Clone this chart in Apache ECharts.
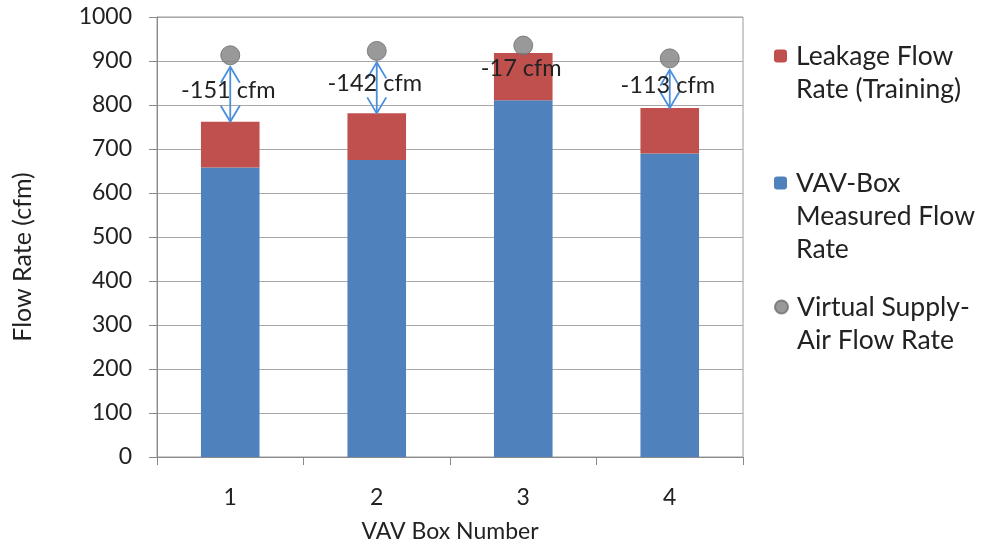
<!DOCTYPE html>
<html>
<head>
<meta charset="utf-8">
<title>VAV Box Flow Rates</title>
<script src="https://cdn.jsdelivr.net/npm/echarts@6/dist/echarts.min.js"></script>
<style>
  html, body { margin: 0; padding: 0; background: #fff; }
  #chart { width: 983px; height: 548px; }
</style>
</head>
<body>
<div id="chart"></div>
<script>
// Box numbers along the x axis
const boxes = ['1', '2', '3', '4'];
// Flow measured at each VAV box (cfm)
const measuredFlow = [658, 675, 811, 690];
// Leakage flow from training (cfm), stacked on top of the measured flow
const leakageFlow = [104, 106, 107, 103];
// Virtual supply-air flow rate (cfm)
const virtualFlow = [913, 923, 935, 906];
// Y axis range and step
const yMin = 0, yMax = 1000, yStep = 100;

const FONT = 'Lato';
const TEXT = '#222';
const DOT_SIZE = 19;

const chart = echarts.init(document.getElementById('chart'), null, { renderer: 'canvas' });

// Rows for the difference arrows: [index, measured + leakage, virtual]
const diffRows = boxes.map((b, i) => [i, measuredFlow[i] + leakageFlow[i], virtualFlow[i]]);

function renderDiff(params, api) {
  const i = api.value(0);
  const total = api.value(1);
  const virt = api.value(2);
  const pBar = api.coord([i, total]);
  const pDot = api.coord([i, virt]);
  const x = pBar[0];
  const yLow = pBar[1];
  const yHigh = pDot[1] + DOT_SIZE / 2 + 2;
  const headW = 9.5, headL = 16;
  const lineStyle = { stroke: '#4a8fdc', lineWidth: 1.8, fill: null };
  const mid = (yLow + yHigh) / 2 - 4;
  const labelY = Math.max(mid, pDot[1] + 23);
  const children = [];
  // Only draw the double arrow when there is room between bar top and dot
  if (yLow - yHigh > headL) {
    children.push(
      { type: 'line', shape: { x1: x, y1: yLow, x2: x, y2: yHigh }, style: lineStyle },
      { type: 'polyline', shape: { points: [[x - headW, yHigh + headL], [x, yHigh], [x + headW, yHigh + headL]] }, style: lineStyle },
      { type: 'polyline', shape: { points: [[x - headW, yLow - headL], [x, yLow], [x + headW, yLow - headL]] }, style: lineStyle }
    );
  }
  children.push({
    type: 'text',
    style: {
      text: (total - virt) + ' cfm',
      x: x - 2,
      y: labelY,
      align: 'center',
      verticalAlign: 'middle',
      fontFamily: FONT,
      fontSize: 23.5,
      fill: TEXT
    }
  });
  return { type: 'group', children: children };
}

// One legend component per entry; blank lines above the text keep
// each icon level with the first line of its (multi-line) name.
const LH = 33;
function legendBlock(name, iconY, lines) {
  const n = lines.length;
  const pad = '\n'.repeat(n - 1);
  return {
    data: [{ name: name }],
    orient: 'vertical',
    left: 774,
    top: iconY - (2 * n - 1) * LH / 2,
    padding: 0,
    itemWidth: 13,
    itemHeight: 13,
    itemGap: 0,
    selectedMode: false,
    formatter: () => pad + lines.join('\n'),
    textStyle: {
      fontFamily: FONT,
      fontSize: 26.5,
      color: TEXT,
      lineHeight: LH,
      padding: [0, 0, 0, 4]
    }
  };
}

const option = {
  backgroundColor: '#fff',
  animation: false,
  grid: {
    left: 157,
    right: 240,
    top: 17,
    bottom: 91,
    show: true,
    borderColor: '#9a9a9a',
    borderWidth: 1
  },
  legend: [
    legendBlock('Leakage Flow Rate (Training)', 56, ['Leakage Flow', 'Rate (Training)']),
    legendBlock('VAV-Box Measured Flow Rate', 183, ['VAV-Box', 'Measured Flow', 'Rate']),
    legendBlock('Virtual Supply-Air Flow Rate', 307, ['Virtual Supply-', 'Air Flow Rate'])
  ],
  xAxis: {
    type: 'category',
    data: boxes,
    boundaryGap: true,
    name: 'VAV Box Number',
    nameLocation: 'middle',
    nameGap: 63,
    nameTextStyle: { fontFamily: FONT, fontSize: 23, color: TEXT },
    axisLine: { lineStyle: { color: '#8a8a8a', width: 1 } },
    axisTick: { show: true, alignWithLabel: false, length: 8, lineStyle: { color: '#8a8a8a' } },
    axisLabel: { fontFamily: FONT, fontSize: 23, color: TEXT, margin: 29 },
    splitLine: { show: false }
  },
  yAxis: {
    type: 'value',
    min: yMin,
    max: yMax,
    interval: yStep,
    name: 'Flow Rate (cfm)',
    nameLocation: 'middle',
    nameGap: 122,
    // extra padding on the text's trailing side moves the centred title down
    nameTextStyle: { fontFamily: FONT, fontSize: 25, color: TEXT, padding: [0, 40, 0, 0] },
    axisLine: { show: true, lineStyle: { color: '#8a8a8a', width: 1 } },
    axisTick: { show: true, inside: false, length: 8, lineStyle: { color: '#8a8a8a' } },
    axisLabel: { fontFamily: FONT, fontSize: 23, color: TEXT, margin: 25, formatter: v => String(v) },
    splitLine: { show: true, lineStyle: { color: '#a8a8a8', width: 1 } }
  },
  series: [
    {
      name: 'VAV-Box Measured Flow Rate',
      type: 'bar',
      stack: 'flow',
      barWidth: '40%',
      data: measuredFlow,
      itemStyle: { color: '#4f81bd' },
      z: 2
    },
    {
      name: 'Leakage Flow Rate (Training)',
      type: 'bar',
      stack: 'flow',
      barWidth: '40%',
      data: leakageFlow,
      itemStyle: { color: '#c0504d' },
      z: 2
    },
    {
      name: 'Virtual Supply-Air Flow Rate',
      type: 'scatter',
      data: virtualFlow.map((v, i) => [i, v]),
      symbol: 'circle',
      symbolSize: DOT_SIZE,
      itemStyle: { color: '#808080', borderColor: '#6e6e6e', borderWidth: 1 },
      z: 4
    },
    {
      name: 'diff',
      type: 'custom',
      data: diffRows,
      encode: { x: 0, y: [1, 2] },
      renderItem: renderDiff,
      silent: true,
      z: 5
    }
  ]
};

chart.setOption(option);
</script>
</body>
</html>
